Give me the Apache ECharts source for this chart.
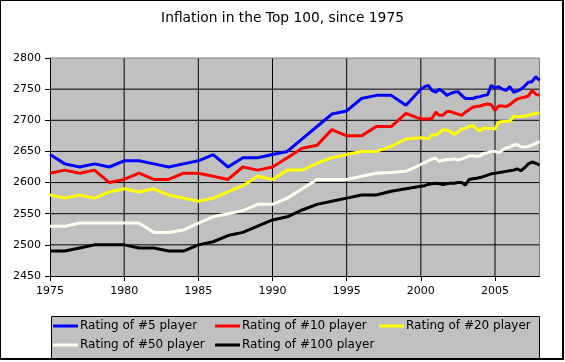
<!DOCTYPE html>
<html><head><meta charset="utf-8">
<script src="https://cdn.jsdelivr.net/npm/echarts@6/dist/echarts.min.js"></script>
<style>
html,body{margin:0;padding:0;background:#fff}
#wrap{position:relative;width:565px;height:362px}
#plotbg{position:absolute;left:50px;top:58px;width:490px;height:218px;background:#C0C0C0}
#c{position:absolute;left:0;top:0;width:565px;height:362px}
</style>
</head><body><div id="wrap"><div id="plotbg"></div><div id="c"></div></div>
<script>
const years = [1975,1976,1977,1978,1979,1980,1981,1982,1983,1984,1985,1986,1987,1988,1989,1990,1991,1992,1993,1994,1995,1996,1997,1998,1999,
  2000,2000.25,2000.5,2000.75,2001,2001.25,2001.5,2001.75,2002,2002.25,2002.5,2002.75,2003,2003.25,2003.5,2003.75,
  2004,2004.25,2004.5,2004.75,2005,2005.25,2005.5,2005.75,2006,2006.25,2006.5,2006.75,2007,2007.25,2007.5,2007.75,2008];
const top5 = [2645,2630,2625,2630,2625,2635,2635,2630,2625,2630,2635,2645,2625,2640,2640,2645,2650,2670,2690,2710,2715,2735,2740,2740,2724,
  2750,2754,2756,2748,2745,2750,2746,2740,2743,2745,2746,2740,2735,2735,2735,2737,
  2738,2740,2741,2756,2752,2754,2750,2748,2754,2745,2747,2750,2755,2761,2762,2770,2764];
const top10 = [2615,2620,2615,2620,2600,2605,2615,2605,2605,2615,2615,2610,2605,2625,2620,2625,2640,2655,2660,2685,2675,2675,2690,2690,2711,
  2702,2702,2702,2703,2713,2708,2708,2714,2714,2712,2710,2708,2713,2717,2721,2722,
  2723,2725,2726,2725,2716,2723,2723,2722,2725,2730,2734,2736,2737,2739,2748,2742,2740];
const top20 = [2580,2575,2580,2575,2585,2590,2585,2590,2580,2575,2570,2575,2585,2595,2610,2605,2620,2620,2631,2640,2645,2650,2650,2658,2670,
  2672,2671,2670,2677,2676,2680,2685,2684,2682,2677,2681,2686,2687,2690,2692,2686,
  2683,2688,2687,2687,2686,2697,2698,2698,2699,2706,2706,2706,2707,2708,2710,2711,2712];
const top50 = [2530,2530,2535,2535,2535,2535,2535,2520,2520,2524,2535,2545,2550,2555,2565,2565,2575,2590,2605,2605,2605,2610,2615,2616,2618,
  2629,2632,2635,2638,2639,2634,2636,2637,2637,2638,2636,2638,2640,2643,2643,2642,
  2643,2647,2648,2650,2650,2648,2652,2656,2657,2660,2661,2657,2657,2658,2660,2663,2666];
const top100 = [2490,2490,2495,2500,2500,2500,2495,2495,2490,2490,2500,2505,2515,2520,2530,2540,2545,2556,2565,2570,2575,2580,2580,2586,2590,
  2594,2595,2597,2598,2599,2598,2597,2598,2599,2599,2600,2600,2596,2605,2606,2607,
  2608,2610,2612,2614,2615,2616,2617,2618,2619,2620,2622,2619,2624,2630,2633,2631,2628];
const seriesNames = ['Rating of #5 player','Rating of #10 player','Rating of #20 player','Rating of #50 player','Rating of #100 player'];
const seriesColors = ['#0000FF','#FF0000','#FFFF00','#FFFFF0','#000000'];
const yGridValues = [2500,2550,2600,2650,2700,2750];
const xGridValues = [1980,1985,1990,1995,2000,2005];
const titleText = 'Inflation in the Top 100, since 1975';

const allValues = [top5, top10, top20, top50, top100];
const FONT = 'DejaVu Sans';
const X_MIN = 1975, X_MAX = 2008, Y_MIN = 2450, Y_MAX = 2800;
const chart = echarts.init(document.getElementById('c'), null, {renderer:'canvas'});
const legendPos = [[53,320],[215,320],[379,320],[53,339],[215,339]];
const xLabel = v => (v % 5 === 0 ? String(v) : '');
const yLabel = v => String(v);

// grid lines drawn as plain line series through the axes' own scales
const gridSeries = [].concat(
  yGridValues.map(v => ({data: [[X_MIN, v], [X_MAX, v]], color: '#000'})),
  xGridValues.map(v => ({data: [[v, Y_MIN], [v, Y_MAX]], color: '#000'})),
  [{data: [[X_MIN, Y_MAX], [X_MAX, Y_MAX]], color: '#808080'},
   {data: [[X_MAX, Y_MIN], [X_MAX, Y_MAX]], color: '#808080'}]
).map((g, i) => ({
  name: 'grid' + i, type: 'line', data: g.data, z: 1, silent: true,
  showSymbol: false, symbol: 'none', clip: false,
  lineStyle: {color: g.color, width: 1}, itemStyle: {color: g.color},
  emphasis: {disabled: true}, tooltip: {show: false}
}));

const option = {
  animation: false,
  backgroundColor: 'transparent',
  title: {text: titleText, left: 'center', top: 11, padding: 0,
    textStyle: {fontFamily: FONT, fontSize: 13.8, fontWeight: 'normal', color: '#000'}},
  graphic: [
    {type:'rect', shape:{x:51.5, y:316.5, width:488, height:42}, style:{fill:'#C0C0C0', stroke:'#000', lineWidth:1}},
    {type:'line', shape:{x1:0.5, y1:0, x2:0.5, y2:360}, style:{stroke:'#000', lineWidth:1}},
    {type:'line', shape:{x1:0, y1:0.5, x2:564, y2:0.5}, style:{stroke:'#000', lineWidth:1}},
    {type:'line', shape:{x1:563, y1:0, x2:563, y2:360}, style:{stroke:'#000', lineWidth:2}},
    {type:'line', shape:{x1:0, y1:359, x2:564, y2:359}, style:{stroke:'#000', lineWidth:2}}
  ],
  legend: seriesNames.map((n, i) => ({
    data: [n], left: legendPos[i][0], top: legendPos[i][1], padding: 0, z: 20,
    icon: 'rect', itemWidth: 25, itemHeight: 3, itemGap: 0,
    textStyle: {fontFamily: FONT, fontSize: 12, color: '#000', padding: [0,0,0,-3]}
  })),
  grid: {left: 50, top: 58, right: 25.5, bottom: 86, show: false},
  xAxis: {
    type: 'value', min: X_MIN, max: X_MAX, interval: 5,
    axisLine: {show: true, onZero: false, lineStyle: {color: '#000', width: 1}},
    axisTick: {show: true, length: 5, lineStyle: {color: '#000'}},
    axisLabel: {formatter: xLabel, showMaxLabel: false, fontFamily: FONT, fontSize: 11, color: '#000', margin: 10},
    splitLine: {show: false}
  },
  yAxis: {
    type: 'value', min: Y_MIN, max: Y_MAX, interval: 50,
    axisLine: {show: true, onZero: false, lineStyle: {color: '#000', width: 1}},
    axisTick: {show: true, length: 5, lineStyle: {color: '#000'}},
    axisLabel: {formatter: yLabel, fontFamily: FONT, fontSize: 11, color: '#000', margin: 9},
    splitLine: {show: false}
  },
  series: gridSeries.concat(seriesNames.map((n, i) => ({
    name: n, type: 'line', showSymbol: false, symbol: 'none',
    data: years.map((y, k) => [y, allValues[i][k]]),
    lineStyle: {color: seriesColors[i], width: 3},
    itemStyle: {color: seriesColors[i]},
    z: 10 - i
  })))
};
chart.setOption(option);
</script></body></html>
